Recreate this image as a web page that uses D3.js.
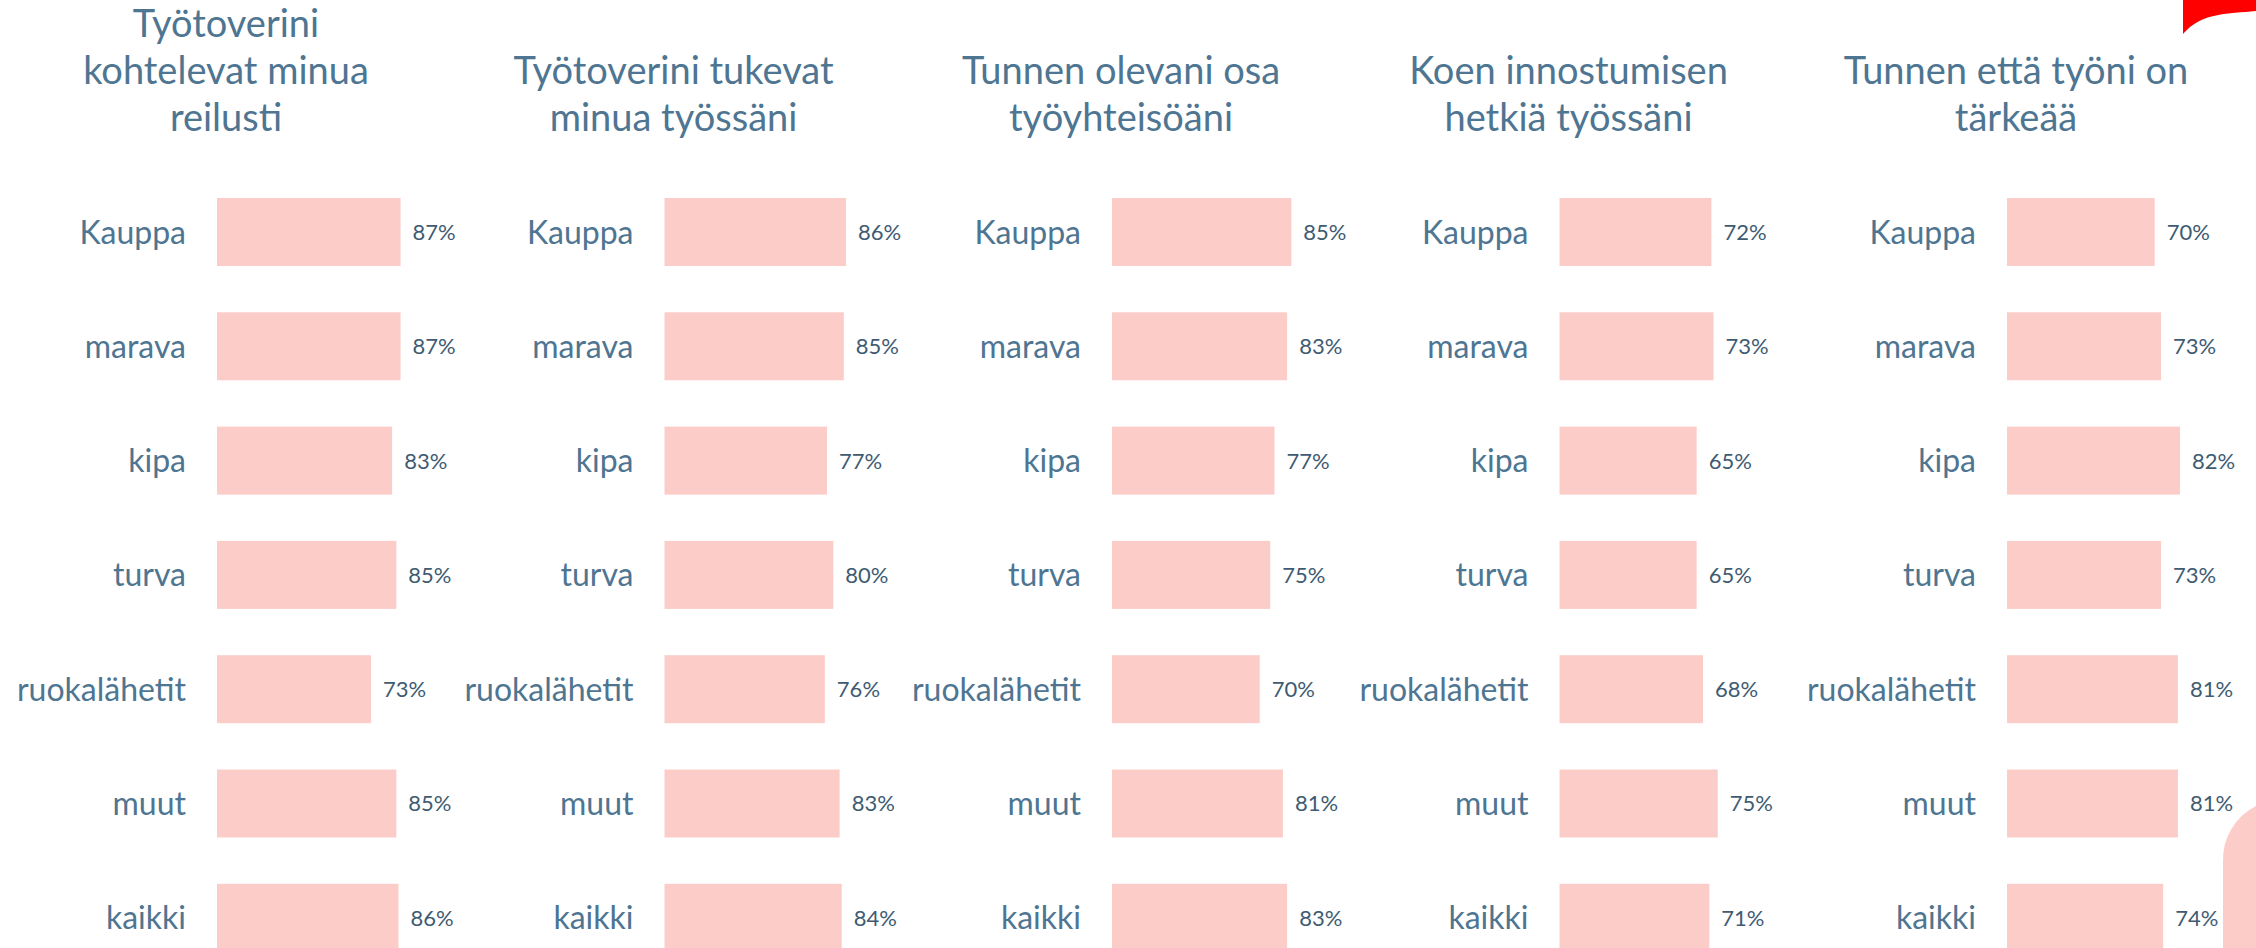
<!DOCTYPE html>
<html>
<head>
<meta charset="utf-8">
<script src="https://cdn.jsdelivr.net/npm/d3@7"></script>
<style>
  html, body { margin: 0; padding: 0; background: #fff; }
  svg { display: block; font-family: Lato, "Open Sans", sans-serif; }
</style>
</head>
<body>
<svg id="chart" width="2256" height="948"></svg>
<script>
// kategoriat (samat joka paneelissa)
const categories = ["Kauppa", "marava", "kipa", "turva", "ruokalähetit", "muut", "kaikki"];

// paneelien otsikot riveittäin
const titles = [
    ["Työtoverini", "kohtelevat minua", "reilusti"],
    ["Työtoverini tukevat", "minua työssäni"],
    ["Tunnen olevani osa", "työyhteisöäni"],
    ["Koen innostumisen", "hetkiä työssäni"],
    ["Tunnen että työni on", "tärkeää"]
];

// arvot prosentteina, järjestys kuten categories
const reilusti = [87, 87, 83, 85, 73, 85, 86];
const tukevat = [86, 85, 77, 80, 76, 83, 84];
const osa = [85, 83, 77, 75, 70, 81, 83];
const innostus = [72, 73, 65, 65, 68, 75, 71];
const tarkea = [70, 73, 82, 73, 81, 81, 74];

const panels = [reilusti, tukevat, osa, innostus, tarkea];

const textColor = "#4e7591",
    valueColor = "#3e5b72",
    barColor = "#fccdc8";

const svg = d3.select("#chart");

// koristeet oikeassa reunassa
svg.append("path")
    .attr("d", "M2183,0 L2256,0 L2256,11 C2228,14 2202,12 2183,34 Z")
    .attr("fill", "#ff0000");
svg.append("path")
    .attr("d", "M2223,948 L2223,862 A60,60 0 0 1 2256,806 L2256,948 Z")
    .attr("fill", barColor);

// paneelin vasen reuna (palkkien alku)
const panelX = d3.scaleLinear().domain([0, panels.length - 1]).range([217, 2007]);

const x = d3.scaleLinear().domain([0, 100]).range([0, 211]);

const y = d3.scaleBand()
    .domain(categories)
    .range([198, 198 + 6 * 114.3 + 68])
    .paddingInner(0.405)
    .paddingOuter(0);

panels.forEach(function (vals, i) {
    const g = svg.append("g")
        .attr("transform", "translate(" + panelX(i) + ",0)");

    const lines = titles[i];
    g.append("text")
        .attr("text-anchor", "middle")
        .attr("fill", textColor)
        .attr("font-size", 38)
        .selectAll("tspan")
        .data(lines)
        .enter()
        .append("tspan")
        .attr("x", 9)
        .attr("y", function (d, k) { return 131 - (lines.length - 1 - k) * 47; })
        .text(function (d) { return d; });

    const rows = g.selectAll("g.row")
        .data(categories.map(function (c, k) { return {cat: c, value: vals[k]}; }))
        .enter()
        .append("g")
        .attr("class", "row")
        .attr("transform", function (d) { return "translate(0," + y(d.cat) + ")"; });

    rows.append("rect")
        .attr("x", 0)
        .attr("y", 0)
        .attr("width", function (d) { return x(d.value); })
        .attr("height", y.bandwidth())
        .attr("fill", barColor);

    rows.append("text")
        .attr("x", -31)
        .attr("y", y.bandwidth() / 2)
        .attr("dy", "0.36em")
        .attr("text-anchor", "end")
        .attr("fill", textColor)
        .attr("font-size", 32)
        .text(function (d) { return d.cat; });

    rows.append("text")
        .attr("x", function (d) { return x(d.value) + 12; })
        .attr("y", y.bandwidth() / 2)
        .attr("dy", "0.36em")
        .attr("fill", valueColor)
        .attr("font-size", 22)
        .text(function (d) { return d.value + "%"; });
});
</script>
</body>
</html>
